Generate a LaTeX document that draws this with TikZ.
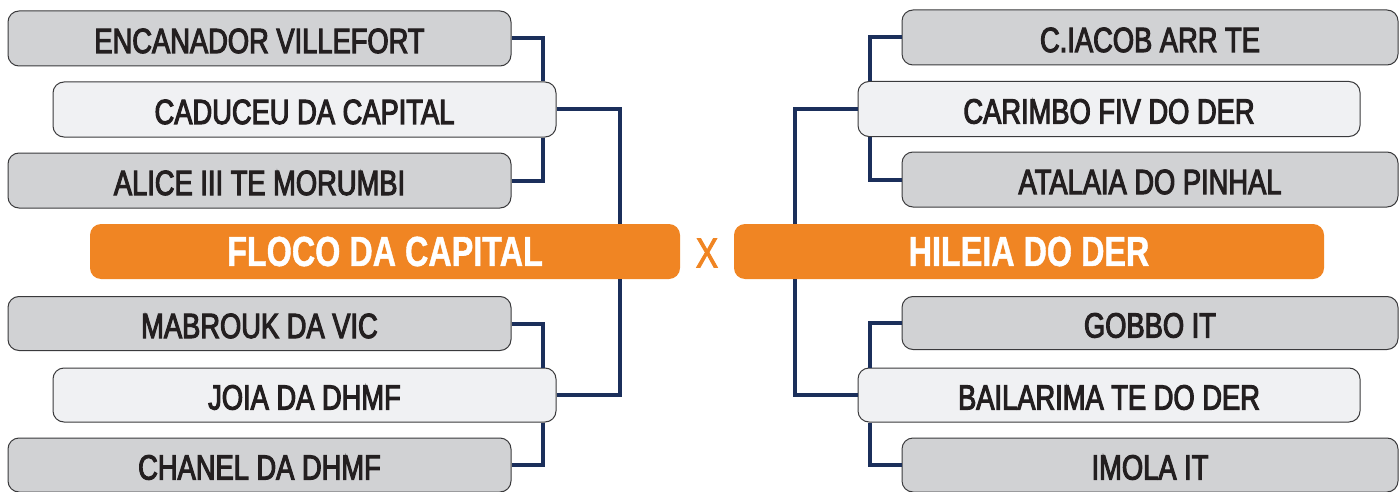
\documentclass[tikz,border=0pt]{standalone}
\usepackage{fontspec}
\setmainfont{Liberation Sans}
\newfontfamily\graytxt{Liberation Sans}[FakeStretch=0.78,FakeBold=3]
\newfontfamily\orangetxt{Liberation Sans Bold}[FakeStretch=0.77,FakeBold=1]
\newfontfamily\xtxt{Liberation Sans}[FakeStretch=0.8,FakeBold=2]
\definecolor{boxgray}{HTML}{D1D2D4}
\definecolor{boxlight}{HTML}{F0F1F3}
\definecolor{boxedge}{HTML}{3A3A3C}
\definecolor{navy}{HTML}{1B2F5B}
\definecolor{orng}{HTML}{F08523}
\definecolor{txtdark}{HTML}{231F20}
\begin{document}
\begin{tikzpicture}[x=1pt,y=-1pt,
  basebox/.style={draw=boxedge,line width=1pt,rounded corners=11pt,minimum height=55pt,inner sep=0pt,text=txtdark,text height=29pt,text depth=0pt,font=\graytxt\fontsize{35}{35}\selectfont},
  graybox/.style={basebox,fill=boxgray,minimum width=503pt},
  lightbox/.style={basebox,fill=boxlight,minimum width=503pt},
  rgraybox/.style={basebox,fill=boxgray,minimum width=496pt},
  obox/.style={fill=orng,rounded corners=11pt,minimum width=590pt,minimum height=55pt,inner sep=0pt,text=white,font=\orangetxt\fontsize{42}{42}\selectfont},
  conn/.style={draw=navy,line width=4pt}]
\useasboundingbox (0,0) rectangle (1399,492);
% left side
\node[graybox] (enc) at (259.5,38.5) {ENCANADOR VILLEFORT};
\node[lightbox] (cad) at (304.5,109.5) {CADUCEU DA CAPITAL};
\node[graybox] (ali) at (259.5,180.5) {ALICE III TE MORUMBI};
\node[obox] (floco) at (385,251.5) {FLOCO DA CAPITAL};
\node[graybox,minimum height=54pt] (mab) at (259.5,323.5) {MABROUK DA VIC};
\node[lightbox,minimum height=54pt] (joia) at (304.5,395) {JOIA DA DHMF};
\node[graybox,minimum height=54pt] (chan) at (259.5,465) {CHANEL DA DHMF};
% right side
\node[rgraybox] (cia) at (1150,37.5) {C.IACOB ARR TE};
\node[lightbox,minimum width=502pt] (car) at (1109,109) {CARIMBO FIV DO DER};
\node[rgraybox] (ata) at (1150,179.5) {ATALAIA DO PINHAL};
\node[obox] (hil) at (1029,251.5) {HILEIA DO DER};
\node[rgraybox,minimum height=53pt] (gob) at (1150,323) {GOBBO IT};
\node[lightbox,minimum width=502pt,minimum height=54pt] (bai) at (1109,395) {BAILARIMA TE DO DER};
\node[rgraybox,minimum height=54pt] (imo) at (1150,465) {IMOLA IT};
% versus
\node[text=orng,font=\xtxt\fontsize{42}{42}\selectfont,inner sep=0pt] (vs) at (707,253) {X};
% connector columns
\coordinate (lv) at (543,0);
\coordinate (lw) at (620,0);
\coordinate (rv) at (870,0);
\coordinate (rw) at (795,0);
% left connectors
\draw[conn] (enc.east) -| (lv |- cad.north);
\draw[conn] (cad.south -| lv) |- (ali.east);
\draw[conn] (cad.east) -| (lw |- floco.north);
\draw[conn] (mab.east) -| (lv |- joia.north);
\draw[conn] (joia.south -| lv) |- (chan.east);
\draw[conn] (joia.east) -| (lw |- floco.south);
% right connectors
\draw[conn] (cia.west) -| (rv |- car.north);
\draw[conn] (car.south -| rv) |- (ata.west);
\draw[conn] (car.west) -| (rw |- hil.north);
\draw[conn] (gob.west) -| (rv |- bai.north);
\draw[conn] (bai.south -| rv) |- (imo.west);
\draw[conn] (bai.west) -| (rw |- hil.south);
\end{tikzpicture}
\end{document}
